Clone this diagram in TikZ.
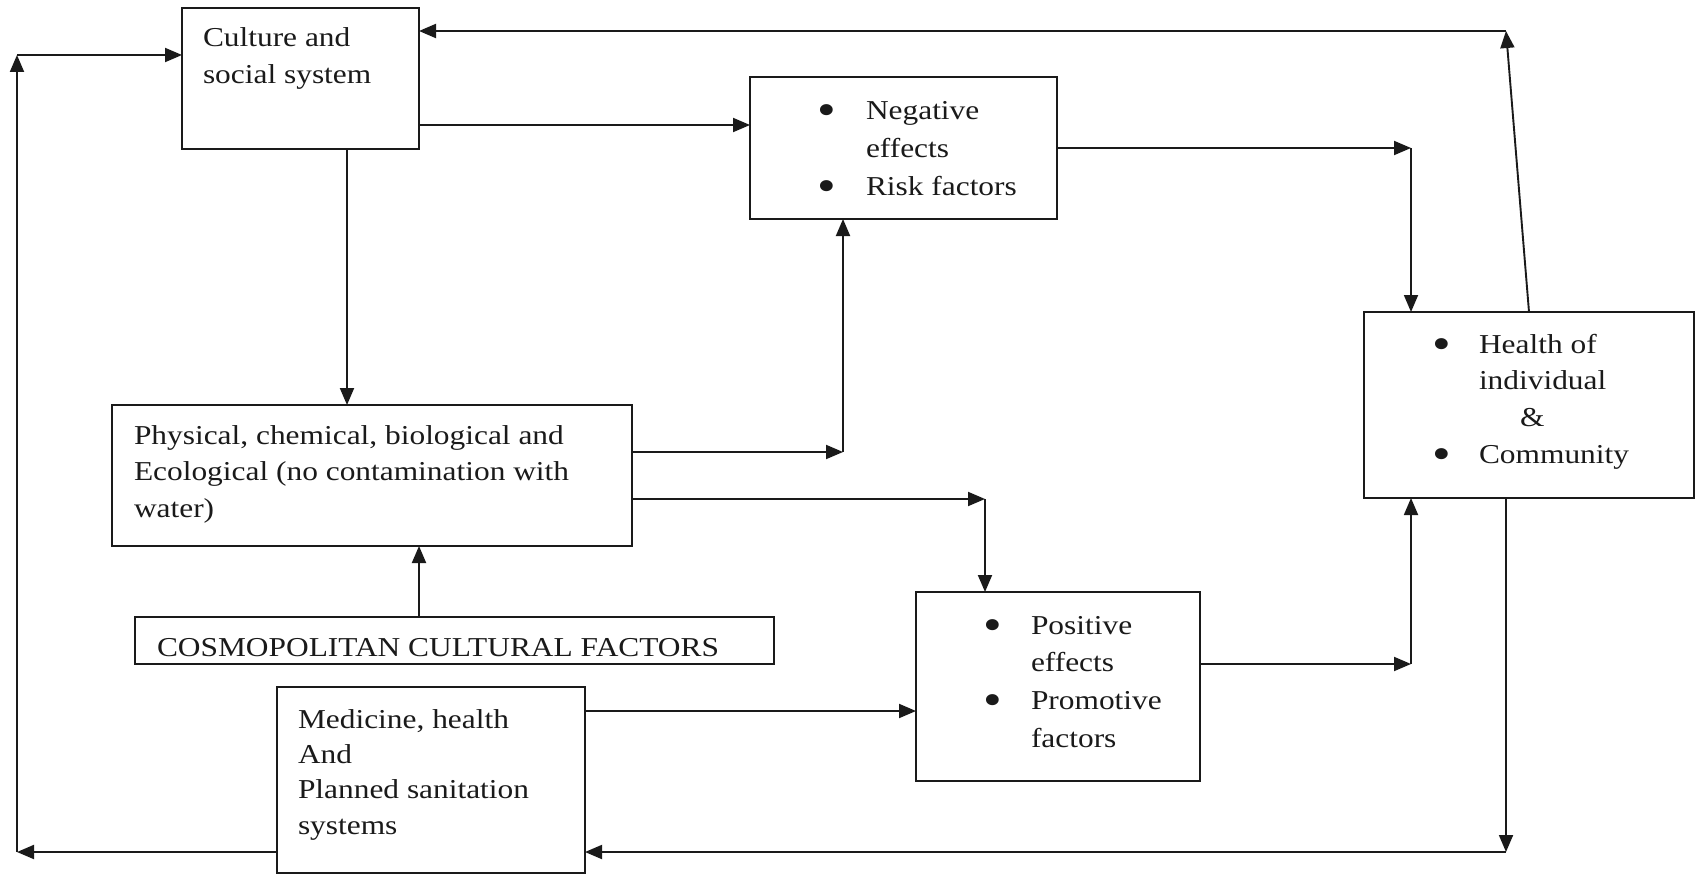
\documentclass[tikz,border=0pt]{standalone}
\usepackage{fontspec}
\usepackage{graphicx}
\setmainfont[FakeStretch=1.15]{Liberation Serif}
\usetikzlibrary{arrows.meta}
\definecolor{ink}{HTML}{1A1A1A}
\newcommand{\bul}{\raisebox{-6pt}{\scalebox{1.7}{\textbullet}}}
\begin{document}
\begin{tikzpicture}[x=1pt,y=-1pt,
  box/.style={draw=ink, line width=2.2pt, inner sep=0pt, outer sep=0pt, anchor=north west},
  arr/.style={draw=ink, line width=1.9pt, -{Triangle[length=17pt,width=14pt]}},
  txt/.style={inner sep=0pt, outer sep=0pt, anchor=base west, text=ink, font=\fontsize{27.3}{36.5}\selectfont}]
\useasboundingbox[fill=white] (0,0) rectangle (1697,875);
% boxes
\node[box, minimum width=237pt, minimum height=141pt] (culture) at (182,8) {};
\node[box, minimum width=307pt, minimum height=142pt] (neg) at (750,77) {};
\node[box, minimum width=520pt, minimum height=141pt] (phys) at (112,405) {};
\node[box, minimum width=639pt, minimum height=47pt] (cosmo) at (135,617) {};
\node[box, minimum width=308pt, minimum height=186pt] (med) at (277,687) {};
\node[box, minimum width=284pt, minimum height=189pt] (pos) at (916,592) {};
\node[box, minimum width=330pt, minimum height=186pt] (health) at (1364,312) {};
% texts
\node[txt] (cultureT) at (203,47) {\begin{tabular}[t]{@{}l@{}}Culture and\\social system\end{tabular}};
\node[txt, font=\fontsize{27.3}{38}\selectfont] (negT) at (817,119) {\begin{tabular}[t]{@{}p{49pt}@{}l@{}}\bul & Negative\\ & effects\\ \bul & Risk factors\end{tabular}};
\node[txt] (physT) at (134,444) {\begin{tabular}[t]{@{}l@{}}Physical, chemical, biological and\\Ecological (no contamination with\\water)\end{tabular}};
\node[txt] (cosmoT) at (157,656) {COSMOPOLITAN CULTURAL FACTORS};
\node[txt, font=\fontsize{27.3}{35.4}\selectfont] (medT) at (298,728) {\begin{tabular}[t]{@{}l@{}}Medicine, health\\And\\Planned sanitation\\systems\end{tabular}};
\node[txt, font=\fontsize{27.3}{37.7}\selectfont] (posT) at (983,634) {\begin{tabular}[t]{@{}p{48pt}@{}l@{}}\bul & Positive\\ & effects\\ \bul & Promotive\\ & factors\end{tabular}};
\node[txt, font=\fontsize{27.3}{36.7}\selectfont] (healthT) at (1432,353) {\begin{tabular}[t]{@{}p{47pt}@{}l@{}}\bul & Health of\\ & individual\\ & \hspace{41pt}\&\\ \bul & Community\end{tabular}};
% helper coordinates
\coordinate (v1) at (347,0);
\coordinate (h1) at (0,125);
\coordinate (c1) at (843,452);
\coordinate (c2) at (985,499);
\coordinate (v2) at (419,0);
\coordinate (h2) at (0,711);
\coordinate (c3) at (1411,148);
\coordinate (c4) at (1411,664);
\coordinate (v3) at (1529,0);
\coordinate (c5) at (1506,31);
\coordinate (c6) at (1506,852);
\coordinate (c7) at (17,852);
\coordinate (c8) at (17,55);
% connectors
\draw[arr] (v1 |- culture.south) -- (v1 |- phys.north);
\draw[arr] (culture.east |- h1) -- (neg.west |- h1);
\draw[arr] (phys.east |- c1) -- (c1);
\draw[arr] (c1) -- (c1 |- neg.south);
\draw[arr] (phys.east |- c2) -- (c2);
\draw[arr] (c2) -- (c2 |- pos.north);
\draw[arr] (v2 |- cosmo.north) -- (v2 |- phys.south);
\draw[arr] (med.east |- h2) -- (pos.west |- h2);
\draw[arr] (neg.east |- c3) -- (c3);
\draw[arr] (c3) -- (c3 |- health.north);
\draw[arr] (pos.east |- c4) -- (c4);
\draw[arr] (c4) -- (c4 |- health.south);
\draw[arr] (v3 |- health.north) -- (c5);
\draw[arr] (c5) -- (culture.east |- c5);
\draw[arr] (c6 |- health.south) -- (c6);
\draw[arr] (c6) -- (med.east |- c6);
\draw[arr] (med.west |- c7) -- (c7);
\draw[arr] (c7) -- (c8);
\draw[arr] (c8) -- (culture.west |- c8);
\end{tikzpicture}
\end{document}
